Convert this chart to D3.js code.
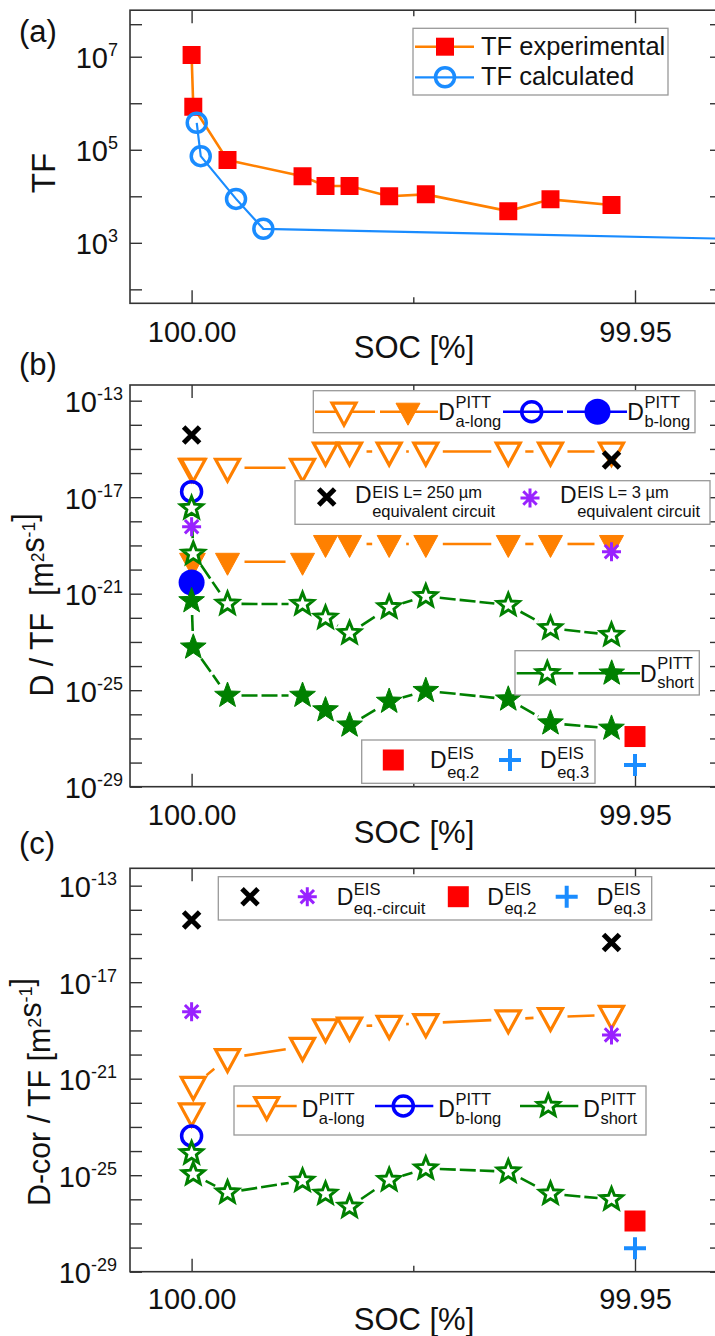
<!DOCTYPE html>
<html>
<head>
<meta charset="utf-8">
<script src="https://cdn.jsdelivr.net/npm/d3@7"></script>
<style>
  body { margin: 0; background: #fff; }
  svg { display: block; }
  text { font-family: "Liberation Sans", Arial, Helvetica, sans-serif; fill: #111; }
</style>
</head>
<body>
<div class="chart"></div>
<script>
// SOC of the measured points, shared by all panels
const socPoints = [100.0, 99.99981, 99.99595, 99.98749, 99.9849, 99.98219, 99.97772, 99.97359, 99.96429, 99.95953, 99.95265];
const socCalc = [99.99942, 99.99897, 99.99499, 99.99191, 99.93139];
const socEis = [100.0, 99.95265];
const socEq = [99.95];
const socFirst = [100.0];
const socTicks = [100.0, 99.975, 99.95];

// (a) thermodynamic factor
const tfExperimental = [1.09e7, 8.4e5, 6.0e4, 2.7e4, 1.66e4, 1.66e4, 1.0e4, 1.1e4, 4.8e3, 8.6e3, 6.5e3];
const tfCalculated = [3.8e5, 7.3e4, 8.8e3, 2.0e3, 1.13e3];

// (b) D / TF
const aLongOpenB = [1.66e-16, 1.66e-16, 1.66e-16, 1.66e-16, 7.8e-16, 7.8e-16, 7.8e-16, 7.8e-16, 7.8e-16, 7.8e-16, 7.8e-16];
const aLongFilledB = [2.1e-20, 2.1e-20, 2.1e-20, 2.1e-20, 1.15e-19, 1.15e-19, 1.15e-19, 1.15e-19, 1.15e-19, 1.15e-19, 1.15e-19];
const bLongOpenB = [1.7e-17];
const bLongFilledB = [2.9e-21];
const shortOpenB = [3.5e-18, 4.5e-20, 3.8e-22, 3.7e-22, 1.0e-22, 2.3e-23, 2.7e-22, 7.8e-22, 3.4e-22, 3.7e-23, 1.95e-23];
const shortFilledB = [5.0e-22, 6.0e-24, 6.0e-26, 6.0e-26, 1.5e-26, 3.5e-27, 3.4e-26, 9.5e-26, 4.2e-26, 4.3e-27, 2.6e-27];
const eisL250B = [3.8e-15, 3.5e-16];
const eisL3B = [6.0e-19, 5.5e-20];
const eisEq2B = [1.2e-27];
const eisEq3B = [8e-29];

// (c) D-cor / TF
const aLongC = [4.0e-23, 5.0e-22, 7.1e-21, 2.1e-20, 1.23e-19, 1.45e-19, 1.7e-19, 2.0e-19, 2.9e-19, 3.6e-19, 4.4e-19];
const bLongC = [4.2e-24];
const shortC = [8.1e-25, 1.1e-25, 1.9e-26, 5.9e-26, 1.7e-26, 4.9e-27, 6.3e-26, 1.9e-25, 1.4e-25, 1.7e-26, 1.0e-26];
const eisCircuitXC = [3.8e-15, 4.4e-16];
const eisCircuitAstC = [6.0e-19, 6.5e-20];
const eisEq2C = [1.26e-27];
const eisEq3C = [9.3e-29];

const ORANGE = "#ff8000", RED = "#ff0000", SKY = "#1a8cff", BLUE = "#0000ff",
  GREEN = "#008000", PURPLE = "#9922ff", AXIS = "#333";

const W = 715, H = 1336;
const L = 130, R = 722;

const svg = d3.select(".chart").append("svg").attr("width", W).attr("height", H);
svg.append("rect").attr("width", W).attr("height", H).attr("fill", "#fff");

const x = d3.scaleLinear().domain([100, 99.95]).range([191.6, 635]);

// marker shapes
const square = (s) => `M${-s / 2},${-s / 2}h${s}v${s}h${-s}Z`;
const triDown = "M-12,-8.5L12,-8.5L0,13.5Z";
const circle = (r) => d3.symbol(d3.symbolCircle, Math.PI * r * r)();
const star = (R0, r0) => {
  let p = "";
  for (let k = 0; k < 10; k++) {
    const a = (-90 + k * 36) * Math.PI / 180, rr = k % 2 ? r0 : R0;
    p += (k ? "L" : "M") + (rr * Math.cos(a)).toFixed(2) + "," + (rr * Math.sin(a)).toFixed(2);
  }
  return p + "Z";
};
const xMark = (s) => `M${-s},${-s}L${s},${s}M${-s},${s}L${s},${-s}`;
const asterisk = (s) => {
  const d = s * Math.SQRT1_2;
  return `M0,${-s}V${s}M${-s},0H${s}M${-d},${-d}L${d},${d}M${-d},${d}L${d},${-d}`;
};
const plus = (s) => `M0,${-s}V${s}M${-s},0H${s}`;

const styles = {
  sqA: { d: square(18), fill: RED, stroke: "none" },
  circA: { d: circle(9.5), fill: "none", stroke: SKY, sw: 3.5 },
  triOpen: { d: triDown, fill: "#fff", stroke: ORANGE, sw: 3.2 },
  triFill: { d: triDown, fill: ORANGE, stroke: ORANGE, sw: 1 },
  circOpen: { d: circle(10), fill: "none", stroke: BLUE, sw: 3.5 },
  circFill: { d: circle(13), fill: BLUE, stroke: "none" },
  starOpen: { d: star(11.5, 5), fill: "#fff", stroke: GREEN, sw: 3 },
  starFill: { d: star(13.5, 5.6), fill: GREEN, stroke: GREEN, sw: 1 },
  x: { d: xMark(8), fill: "none", stroke: "#000", sw: 5 },
  ast: { d: asterisk(9.5), fill: "none", stroke: PURPLE, sw: 3 },
  sq: { d: square(21), fill: RED, stroke: "none" },
  plus: { d: plus(11), fill: "none", stroke: SKY, sw: 4 }
};

function marker(g, px, py, st) {
  g.append("path").attr("transform", `translate(${px},${py})`).attr("d", st.d)
    .attr("fill", st.fill).attr("stroke", st.stroke).attr("stroke-width", st.sw || 0);
}

function gapSegments(pts, gap) {
  const segs = [];
  for (let i = 1; i < pts.length; i++) {
    const [x0, y0] = pts[i - 1], [x1, y1] = pts[i];
    const dx = x1 - x0, dy = y1 - y0, len = Math.hypot(dx, dy);
    if (len <= 2 * gap + 0.5) continue;
    const ux = dx / len, uy = dy / len;
    segs.push([[x0 + ux * gap, y0 + uy * gap], [x1 - ux * gap, y1 - uy * gap]]);
  }
  return segs;
}

function plotSeries(layer, y, socs, vals, st, line) {
  const pts = socs.map((s, i) => [x(s), y(vals[i])]);
  if (line) {
    const gen = d3.line();
    const segs = line.gap ? gapSegments(pts, line.gap) : [pts];
    layer.selectAll(null).data(segs).join("path")
      .attr("d", gen).attr("fill", "none")
      .attr("stroke", line.color).attr("stroke-width", line.width)
      .attr("stroke-dasharray", line.dash || null);
  }
  layer.selectAll(null).data(pts).join("path")
    .attr("transform", (d) => `translate(${d[0]},${d[1]})`)
    .attr("d", st.d).attr("fill", st.fill).attr("stroke", st.stroke)
    .attr("stroke-width", st.sw || 0);
}

// axes, frame and labels of one panel
function panel(p) {
  const g = svg.append("g");
  const y = d3.scaleLog().domain(p.domain).range([p.bottom, p.top]);

  const tickVals = p.exps.map((e) => Math.pow(10, e)).concat(p.extraTicks || []);
  const styleTicks = (sel) => {
    sel.select(".domain").remove();
    sel.selectAll(".tick line").attr("stroke", AXIS).attr("stroke-width", 1.4);
  };

  g.append("g").attr("transform", `translate(${L},0)`)
    .call(d3.axisLeft(y).tickValues(tickVals).tickSize(-12).tickFormat(""))
    .call(styleTicks);
  g.append("g").attr("transform", `translate(${R},0)`)
    .call(d3.axisRight(y).tickValues(tickVals).tickSize(-12).tickFormat(""))
    .call(styleTicks);

  const fmt = (d) => (d === 99.975 ? "" : d.toFixed(2));
  g.append("g").attr("transform", `translate(0,${p.bottom})`)
    .call(d3.axisBottom(x).tickValues(socTicks).tickSize(-13).tickFormat(fmt))
    .call(styleTicks)
    .call((a) => a.selectAll(".tick").filter((d) => d === 99.975).select("line").attr("y2", -6))
    .call((a) => a.selectAll(".tick text").attr("y", p.xLabelDy).attr("dy", null)
      .attr("font-size", 29).attr("fill", "#111")
      .attr("font-family", '"Liberation Sans", Arial, sans-serif'));
  g.append("g").attr("transform", `translate(0,${p.top})`)
    .call(d3.axisTop(x).tickValues(socTicks).tickSize(-13).tickFormat(""))
    .call(styleTicks)
    .call((a) => a.selectAll(".tick").filter((d) => d === 99.975).select("line").attr("y2", 6));

  g.append("rect").attr("x", L).attr("y", p.top).attr("width", R - L).attr("height", p.bottom - p.top)
    .attr("fill", "none").attr("stroke", AXIS).attr("stroke-width", 1.6);

  // power-of-ten labels
  p.labelExps.forEach((e) => {
    const t = g.append("text").attr("x", p.labelRight).attr("y", y(Math.pow(10, e)) + 11.5)
      .attr("text-anchor", "end");
    t.append("tspan").attr("font-size", 29).text("10");
    t.append("tspan").attr("font-size", 18).attr("dy", -12).text(e);
  });

  // x title
  g.append("text").attr("x", 414).attr("y", p.xTitleY).attr("text-anchor", "middle")
    .attr("font-size", 31).text("SOC [%]");

  // panel letter
  g.append("text").attr("x", 19).attr("y", p.letterY).attr("font-size", 31).text(p.letter);

  // y title
  const yt = g.append("text")
    .attr("transform", `translate(${p.yTitleX},${p.yTitleY}) rotate(-90) scale(${p.yTitleSx},1)`)
    .attr("text-anchor", "middle").attr("font-size", p.yTitleSize).style("white-space", "pre");
  p.yTitle.forEach(([s, sup]) => {
    if (sup) {
      yt.append("tspan").attr("font-size", 19).attr("dy", -9).text(s);
      yt.append("tspan").attr("font-size", p.yTitleSize).attr("dy", 9).text("");
    } else {
      yt.append("tspan").text(s);
    }
  });

  const id = "clip-" + p.letter.replace(/[()]/g, "");
  svg.append("clipPath").attr("id", id).append("rect")
    .attr("x", L).attr("y", p.top).attr("width", R - L).attr("height", p.bottom - p.top);
  const layer = svg.append("g").attr("clip-path", `url(#${id})`);
  return { y, layer };
}

function legendBox(x0, y0, x1, y1) {
  svg.append("rect").attr("x", x0).attr("y", y0).attr("width", x1 - x0).attr("height", y1 - y0)
    .attr("fill", "#fff").attr("stroke", "#999").attr("stroke-width", 1.3);
}
function legendLine(x0, x1, yy, color, w) {
  svg.append("line").attr("x1", x0).attr("x2", x1).attr("y1", yy).attr("y2", yy)
    .attr("stroke", color).attr("stroke-width", w);
}
// "D" with stacked superscript and subscript
function dLabel(x0, base, sup, sub, supDy, subDy) {
  const t = svg.append("text").attr("x", x0).attr("y", base).attr("font-size", 23).text("D");
  const w = t.node().getComputedTextLength();
  svg.append("text").attr("x", x0 + w + 0.5).attr("y", base + supDy).attr("font-size", 16.5).text(sup);
  svg.append("text").attr("x", x0 + w + 0.5).attr("y", base + subDy).attr("font-size", 16.5).text(sub);
}

const dExps = d3.range(-29, -12);
const dLabels = [-13, -17, -21, -25, -29];

// ---------- (a) ----------
const pa = panel({
  letter: "(a)", letterY: 42, top: 10.2, bottom: 303.3,
  domain: [Math.pow(10, 1.7), 1e8], exps: d3.range(2, 8), extraTicks: [5e7],
  labelExps: [3, 5, 7], labelRight: 118, xLabelDy: 38.4, xTitleY: 358,
  yTitle: [["TF"]], yTitleX: 55, yTitleY: 173, yTitleSx: 1, yTitleSize: 33
});
plotSeries(pa.layer, pa.y, socPoints, tfExperimental, styles.sqA, { color: ORANGE, width: 2.6 });
plotSeries(pa.layer, pa.y, socCalc, tfCalculated, styles.circA, { color: SKY, width: 2.2 });

legendBox(413, 28.3, 668, 95);
legendLine(415, 474, 46.7, ORANGE, 2.6);
marker(svg, 445, 46.7, styles.sqA);
legendLine(415, 474, 77.3, SKY, 2.2);
marker(svg, 445, 77.3, styles.circA);
svg.append("text").attr("x", 481).attr("y", 55).attr("font-size", 25.5).text("TF experimental");
svg.append("text").attr("x", 481).attr("y", 85).attr("font-size", 25.5).text("TF calculated");

// ---------- (b) ----------
const pb = panel({
  letter: "(b)", letterY: 375, top: 385, bottom: 786.7,
  domain: [1e-29, Math.pow(10, -12.35)], exps: dExps,
  labelExps: dLabels, labelRight: 123, xLabelDy: 38.3, xTitleY: 843,
  yTitle: [["D / TF  [m"], ["2", true], ["s"], ["-1", true], ["]"]],
  yTitleX: 53, yTitleY: 605, yTitleSx: 0.92, yTitleSize: 33
});
const triLine = { color: ORANGE, width: 2.6, gap: 17 };
const starLine = { color: GREEN, width: 2.6, gap: 14, dash: "16,4" };
plotSeries(pb.layer, pb.y, socPoints, aLongOpenB, styles.triOpen, triLine);
plotSeries(pb.layer, pb.y, socPoints, aLongFilledB, styles.triFill, triLine);
plotSeries(pb.layer, pb.y, socFirst, bLongOpenB, styles.circOpen);
plotSeries(pb.layer, pb.y, socFirst, bLongFilledB, styles.circFill);
plotSeries(pb.layer, pb.y, socPoints, shortOpenB, styles.starOpen, starLine);
plotSeries(pb.layer, pb.y, socPoints, shortFilledB, styles.starFill, starLine);
plotSeries(pb.layer, pb.y, socEis, eisL250B, styles.x);
plotSeries(pb.layer, pb.y, socEis, eisL3B, styles.ast);
plotSeries(pb.layer, pb.y, socEq, eisEq2B, styles.sq);
plotSeries(pb.layer, pb.y, socEq, eisEq3B, styles.plus);

// legend b1
legendBox(313.3, 390.7, 695, 432.7);
legendLine(315, 375, 411.7, ORANGE, 2.6);
marker(svg, 344, 411.7, styles.triOpen);
legendLine(380, 438, 411.7, ORANGE, 2.6);
marker(svg, 408, 411.7, styles.triFill);
dLabel(438.3, 420, "PITT", "a-long", -12.5, 6.5);
legendLine(503, 563, 411.7, BLUE, 2.6);
marker(svg, 531.7, 411.7, styles.circOpen);
legendLine(567, 627, 411.7, BLUE, 2.6);
marker(svg, 597.5, 411.7, styles.circFill);
dLabel(627.3, 420, "PITT", "b-long", -12.5, 6.5);

// legend b2
legendBox(295, 480.7, 710, 524.3);
marker(svg, 326.7, 497, styles.x);
dLabel(355, 503.3, "EIS L= 250 µm", "equivalent circuit", -5, 14);
marker(svg, 530, 498, styles.ast);
dLabel(560, 503.3, "EIS L= 3 µm", "equivalent circuit", -5, 14);

// legend b3
legendBox(515, 650.7, 699.3, 695);
legendLine(516.7, 573.3, 673.3, GREEN, 2.6);
marker(svg, 547.3, 673.3, styles.starOpen);
legendLine(578.3, 640, 673.3, GREEN, 2.6);
marker(svg, 611.7, 673.3, styles.starFill);
dLabel(640, 681.7, "PITT", "short", -12.5, 6.5);

// legend b4
legendBox(361.7, 740, 595, 783.3);
marker(svg, 393.3, 760, styles.sq);
dLabel(430, 768.3, "EIS", "eq.2", -9.5, 9.5);
marker(svg, 510, 760, styles.plus);
dLabel(540, 768.3, "EIS", "eq.3", -9.5, 9.5);

// ---------- (c) ----------
const pc = panel({
  letter: "(c)", letterY: 854, top: 868.3, bottom: 1271.7,
  domain: [1e-29, Math.pow(10, -12.28)], exps: dExps,
  labelExps: dLabels, labelRight: 117, xLabelDy: 37, xTitleY: 1330,
  yTitle: [["D-cor / TF [m"], ["2", true], ["s"], ["-1", true], ["]"]],
  yTitleX: 50, yTitleY: 1092, yTitleSx: 0.95, yTitleSize: 32
});
plotSeries(pc.layer, pc.y, socPoints, aLongC, styles.triOpen, triLine);
plotSeries(pc.layer, pc.y, socFirst, bLongC, styles.circOpen);
plotSeries(pc.layer, pc.y, socPoints, shortC, styles.starOpen, starLine);
plotSeries(pc.layer, pc.y, socEis, eisCircuitXC, styles.x);
plotSeries(pc.layer, pc.y, socEis, eisCircuitAstC, styles.ast);
plotSeries(pc.layer, pc.y, socEq, eisEq2C, styles.sq);
plotSeries(pc.layer, pc.y, socEq, eisEq3C, styles.plus);

// legend c1
legendBox(218.3, 876.7, 651.7, 920);
marker(svg, 250, 896.7, styles.x);
marker(svg, 307.3, 896.7, styles.ast);
dLabel(336.7, 905, "EIS", "eq.-circuit", -10.5, 8.5);
marker(svg, 458.3, 896.7, styles.sq);
dLabel(487.3, 905, "EIS", "eq.2", -10.5, 8.5);
marker(svg, 566.7, 896.7, styles.plus);
dLabel(596.7, 905, "EIS", "eq.3", -10.5, 8.5);

// legend c2
legendBox(234, 1086, 646, 1135);
legendLine(236.7, 296.7, 1106, ORANGE, 2.6);
marker(svg, 266.7, 1106, styles.triOpen);
dLabel(301.7, 1116.7, "PITT", "a-long", -11.5, 7.5);
legendLine(375, 433.3, 1106, BLUE, 2.6);
marker(svg, 403.3, 1106, styles.circOpen);
dLabel(438.3, 1116.7, "PITT", "b-long", -11.5, 7.5);
legendLine(520, 578.3, 1106, GREEN, 2.6);
marker(svg, 548.3, 1106, styles.starOpen);
dLabel(583.3, 1116.7, "PITT", "short", -11.5, 7.5);
</script>
</body>
</html>
